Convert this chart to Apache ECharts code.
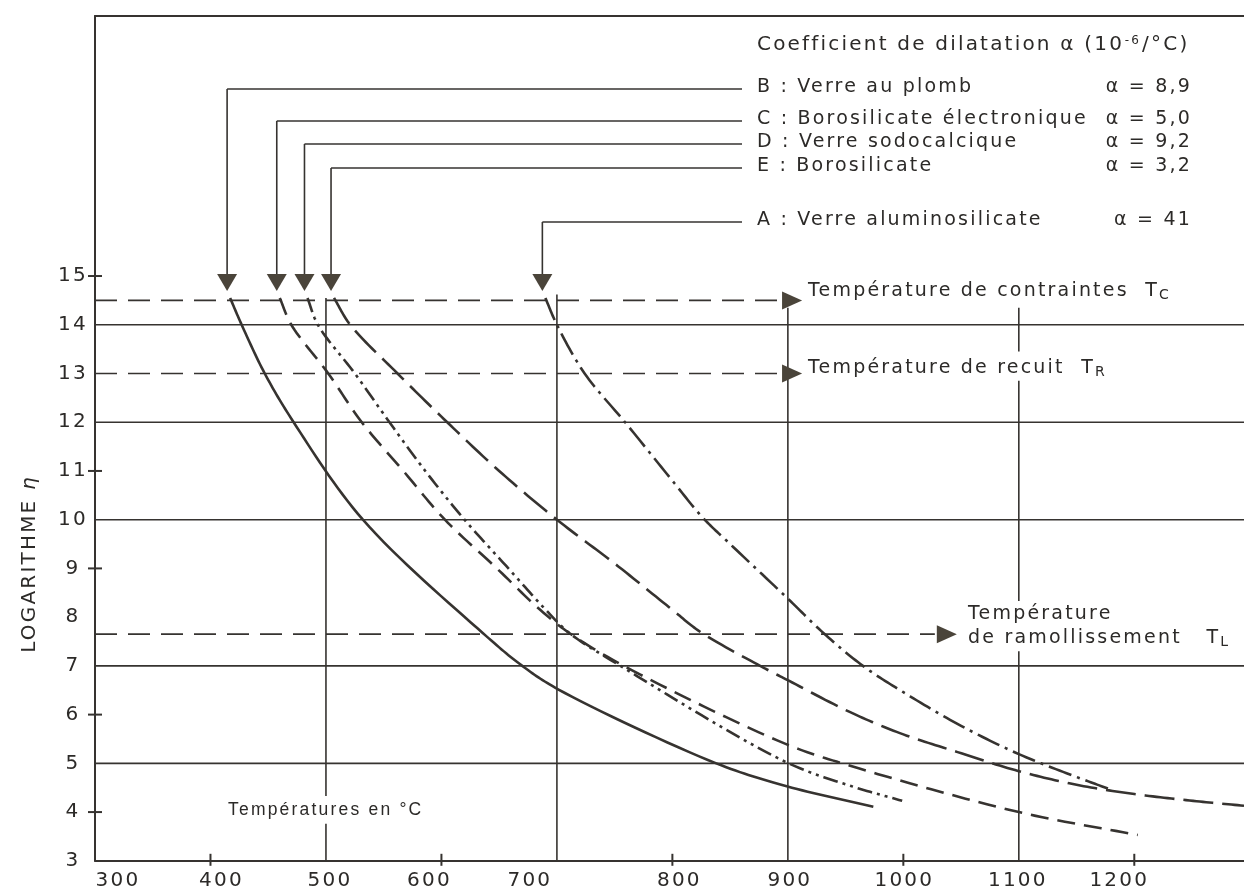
<!DOCTYPE html>
<html>
<head>
<meta charset="utf-8">
<script src="https://cdn.jsdelivr.net/npm/echarts@6/dist/echarts.min.js"></script>
<style>
  html, body { margin: 0; padding: 0; background: #ffffff; }
  #chart { width: 1244px; height: 892px; }
</style>
</head>
<body>
<div id="chart"></div>
<script>
// ---- data -------------------------------------------------------------
const temperatureLabels = [300, 400, 500, 600, 700, 800, 900, 1000, 1100, 1200];
const viscosityLabels = [3, 4, 5, 6, 7, 8, 9, 10, 11, 12, 13, 14, 15];
const xTickMarks = [400, 600, 800, 1000, 1200];
const yTickMarks = [4, 6, 9, 11, 15];
const gridLevels = [14, 12, 10, 7, 5];
// vertical rules: [temperature, from log η, to log η]
const verticalRules = [
  [500, 3, 3.76], [500, 4.33, 14.55],
  [700, 3, 14.62],
  [900, 3, 14.35],
  [1100, 3, 7.3], [1100, 8.33, 12.85], [1100, 13.45, 14.35]
];
// characteristic points (log η) and where their leaders stop
const refLevels = [14.5, 13.0, 7.65];
const refArrowEnds = [895, 895, 1029];

// viscosity curves: [temperature °C, log η]
const curveB = [[417, 14.55], [427, 14], [447, 13], [472, 12], [532, 10], [636, 7.67], [670, 7.0],
  [701, 6.52], [838, 5.0], [899, 4.53], [974, 4.11]];
const curveC = [[460, 14.55], [470, 14], [502, 13], [531, 12], [567, 11], [603, 10], [648, 9],
  [685, 8.16], [711, 7.67], [758, 7.0], [898, 5.4], [954, 4.95], [1100, 4.0], [1203, 3.53]];
const curveD = [[484, 14.55], [493, 14], [525, 13], [555, 12], [586, 11], [620, 10], [658, 9],
  [690, 8.16], [711, 7.67], [755, 7.0], [898, 5.03], [954, 4.54], [999, 4.23]];
const curveE = [[507, 14.55], [521, 14], [562, 13], [605, 12], [650, 11], [700, 10], [750, 9.1],
  [800, 8.15], [824, 7.7], [876, 7.0], [898, 6.73], [954, 6.05], [997, 5.62], [1047, 5.23],
  [1100, 4.84], [1150, 4.56], [1200, 4.37], [1251, 4.23], [1295, 4.13]];
const curveA = [[690, 14.55], [700, 14], [724, 13], [759, 12], [800, 10.8], [826, 10.05], [850, 9.5],
  [900, 8.38], [931, 7.67], [965, 7.0], [1000, 6.46], [1050, 5.77], [1100, 5.19], [1150, 4.72],
  [1181, 4.45]];

const glassNames = ['B : Verre au plomb', 'C : Borosilicate électronique', 'D : Verre sodocalcique',
  'E : Borosilicate', 'A : Verre aluminosilicate'];
const glassAlpha = ['8,9', '5,0', '9,2', '3,2', '41'];

// ---- typography: the printed DejaVu lettering is widely tracked ----------
const TRACK = 2.2;
(function () {
  const proto = CanvasRenderingContext2D.prototype;
  const fill = proto.fillText;
  const measure = proto.measureText;
  const tracked = ctx => /DejaVu/.test(ctx.font);
  proto.fillText = function (t, x, y, m) {
    const prev = this.letterSpacing;
    if (tracked(this)) this.letterSpacing = TRACK + 'px';
    if (m === undefined) fill.call(this, t, x, y); else fill.call(this, t, x, y, m);
    this.letterSpacing = prev;
  };
  proto.measureText = function (t) {
    const prev = this.letterSpacing;
    this.letterSpacing = '0px';
    const r = measure.call(this, t);
    this.letterSpacing = prev;
    const extra = tracked(this) ? TRACK * Array.from(String(t)).length : 0;
    return {
      width: r.width + extra,
      actualBoundingBoxLeft: r.actualBoundingBoxLeft,
      actualBoundingBoxRight: r.actualBoundingBoxRight + extra,
      actualBoundingBoxAscent: r.actualBoundingBoxAscent,
      actualBoundingBoxDescent: r.actualBoundingBoxDescent,
      fontBoundingBoxAscent: r.fontBoundingBoxAscent,
      fontBoundingBoxDescent: r.fontBoundingBoxDescent
    };
  };
})();

// ---- drawing ------------------------------------------------------------
const INK = '#363330';
const ARROW = '#4a443a';
const TEXT = '#2c2a28';
const FONT = '"DejaVu Sans", sans-serif';
const curves = [curveB, curveC, curveD, curveE, curveA];
const dashes = [null, [18, 9], [15, 5, 3, 5, 3, 5], [30, 9], [24, 6, 3, 6]];
const legendRows = [89, 121, 144, 168, 222];   // pixel rows of the key
const KEY_X = 742;
// printed x labels sit slightly off their ticks
const xLabelShift = { 300: 23, 400: 11, 500: 4, 600: -12, 700: -27, 800: 7, 900: 2, 1000: 1, 1100: -1, 1200: -15 };

const chart = echarts.init(document.getElementById('chart'));

function segment(p0, p1, width, dash) {
  return {
    type: 'line',
    shape: { x1: p0[0], y1: p0[1], x2: p1[0], y2: p1[1] },
    style: { stroke: INK, lineWidth: width, lineDash: dash || null },
    silent: true
  };
}

// centripetal Catmull-Rom through screen points (Barry-Goldman form)
function splinePoints(P, steps) {
  const out = [P[0]];
  const lerp = (a, b, ta, tb, t) => {
    const w = (tb - ta) === 0 ? 0 : (t - ta) / (tb - ta);
    return [a[0] + (b[0] - a[0]) * w, a[1] + (b[1] - a[1]) * w];
  };
  const knot = (t, a, b) => t + Math.sqrt(Math.hypot(b[0] - a[0], b[1] - a[1]));
  for (let i = 0; i < P.length - 1; i++) {
    const p1 = P[i], p2 = P[i + 1];
    const p0 = i > 0 ? P[i - 1] : [2 * p1[0] - p2[0], 2 * p1[1] - p2[1]];
    const p3 = i + 2 < P.length ? P[i + 2] : [2 * p2[0] - p1[0], 2 * p2[1] - p1[1]];
    const t0 = 0, t1 = knot(t0, p0, p1), t2 = knot(t1, p1, p2), t3 = knot(t2, p2, p3);
    for (let s = 1; s <= steps; s++) {
      const t = t1 + (t2 - t1) * s / steps;
      const A1 = lerp(p0, p1, t0, t1, t), A2 = lerp(p1, p2, t1, t2, t), A3 = lerp(p2, p3, t2, t3, t);
      const B1 = lerp(A1, A2, t0, t2, t), B2 = lerp(A2, A3, t1, t3, t);
      out.push(lerp(B1, B2, t1, t2, t));
    }
  }
  return out;
}

const curveSeries = curves.map((c, i) => ({
  type: 'custom',
  name: glassNames[i],
  data: c,
  silent: true,
  clip: false,
  z: 5,
  renderItem: (params, api) => {
    if (params.dataIndex !== 0) return null;
    const pts = c.map(p => api.coord(p));
    return {
      type: 'polyline',
      silent: true,
      shape: { points: splinePoints(pts, 16) },
      style: { stroke: INK, lineWidth: 2.6, fill: null, lineDash: dashes[i], lineCap: 'butt', lineJoin: 'round' }
    };
  }
}));

const xRich = {};
Object.keys(xLabelShift).forEach(k => {
  const s = xLabelShift[k];
  xRich['t' + k] = {
    fontSize: 20, fontFamily: FONT, color: TEXT,
    padding: s >= 0 ? [0, 0, 0, 2 * s] : [0, -2 * s, 0, 0]
  };
});

const option = {
  animation: false,
  backgroundColor: '#ffffff',
  grid: { left: 95, right: 0, top: 16, bottom: 30, containLabel: false },
  xAxis: [{
    type: 'value', min: 300, max: 1295, interval: 100,
    axisLine: { show: true, lineStyle: { color: INK, width: 2 } },
    axisTick: { show: false },
    splitLine: { show: false },
    axisLabel: {
      margin: 9, color: TEXT, fontSize: 20, fontFamily: FONT,
      showMaxLabel: false,
      rich: xRich,
      formatter: v => temperatureLabels.indexOf(v) >= 0 ? '{t' + v + '|' + v + '}' : ''
    }
  }, {
    type: 'value', position: 'top', min: 300, max: 1295,
    axisLine: { show: true, onZero: false, lineStyle: { color: INK, width: 2 } },
    axisTick: { show: false }, axisLabel: { show: false }, splitLine: { show: false }
  }],
  yAxis: {
    type: 'value', min: 3, max: 20.336, interval: 1,
    axisLine: { show: true, lineStyle: { color: INK, width: 2 } },
    axisTick: { show: false },
    splitLine: { show: false },
    axisLabel: {
      margin: 22, align: 'center', color: TEXT, fontSize: 20, fontFamily: FONT,
      showMaxLabel: false,
      formatter: v => viscosityLabels.indexOf(v) >= 0 ? String(v) : ''
    }
  },
  series: [
    {
      // horizontal rules
      type: 'custom', silent: true, z: 2, clip: false,
      data: gridLevels.map(v => [300, v]),
      renderItem: (params, api) => {
        const a = api.coord([300, api.value(1)]);
        const b = api.coord([1295, api.value(1)]);
        return segment(a, b, 1.6);
      }
    },
    {
      // vertical rules
      type: 'custom', silent: true, z: 2, clip: false,
      data: verticalRules,
      renderItem: (params, api) => {
        const a = api.coord([api.value(0), api.value(1)]);
        const b = api.coord([api.value(0), api.value(2)]);
        return segment(a, b, 1.6);
      }
    },
    {
      // axis tick crosses
      type: 'custom', silent: true, z: 3, clip: false,
      data: xTickMarks.map(v => [v, 3, 0]).concat(yTickMarks.map(v => [300, v, 1])),
      renderItem: (params, api) => {
        const p = api.coord([api.value(0), api.value(1)]);
        if (api.value(2) === 0) return segment([p[0], p[1] - 7], [p[0], p[1] + 5], 2);
        return segment([p[0] - 7, p[1]], [p[0] + 7, p[1]], 2);
      }
    },
    {
      // characteristic-point dashed leaders with arrow heads
      type: 'custom', silent: true, z: 4, clip: false,
      data: refLevels.map((v, i) => [refArrowEnds[i], v]),
      renderItem: (params, api) => {
        const a = api.coord([300, api.value(1)]);
        const b = api.coord([api.value(0), api.value(1)]);
        return {
          type: 'group',
          children: [
            segment(a, [b[0] - 2, b[1]], 1.7, [22, 11]),
            {
              type: 'polygon', silent: true,
              shape: { points: [[b[0], b[1] - 9], [b[0] + 20, b[1]], [b[0], b[1] + 9]] },
              style: { fill: ARROW }
            }
          ]
        };
      }
    },
    {
      // key connectors from each curve's start down to its arrow head
      type: 'custom', silent: true, z: 4, clip: false,
      data: curves.map((c, i) => [c[0][0], c[0][1], i]),
      renderItem: (params, api) => {
        const p = api.coord([api.value(0), api.value(1)]);
        const row = legendRows[api.value(2)];
        const x = p[0] - 3;
        const tipY = p[1] - 7;
        return {
          type: 'group',
          children: [
            segment([x, row], [KEY_X, row], 1.6),
            segment([x, row], [x, tipY - 16], 1.6),
            {
              type: 'polygon', silent: true,
              shape: { points: [[x - 10, tipY - 17], [x + 10, tipY - 17], [x, tipY]] },
              style: { fill: ARROW }
            }
          ]
        };
      }
    }
  ].concat(curveSeries)
};

chart.setOption(option);

// ---- texts ------------------------------------------------------------
const txt = (text, x, y, extra) => ({
  type: 'text', x, y, silent: true, z: 10,
  style: Object.assign({
    text, fill: TEXT, font: '19px ' + FONT, verticalAlign: 'middle', align: 'left'
  }, extra || {})
});
const subRich = { s: { fontSize: 14, fontFamily: FONT, fill: TEXT, verticalAlign: 'bottom', padding: [0, 0, -2, 0] } };

const graphics = [
  txt('Coefficient de dilatation α (10{sup|-6}/°C)', 757, 45, {
    font: '20px ' + FONT,
    rich: { sup: { fontSize: 12, fontFamily: FONT, fill: TEXT, padding: [0, 1, 9, 1] } }
  }),
  txt('Température de contraintes  T{s|C}', 808, 291, { rich: subRich }),
  txt('Température de recuit  T{s|R}', 808, 368, { rich: subRich }),
  txt('Température', 968, 614),
  txt('de ramollissement   T{s|L}', 968, 638, { rich: subRich }),
  txt('Températures en °C', 228, 810, { font: '17.5px "Liberation Sans", sans-serif' }),
  {
    type: 'text', x: 30, y: 564, rotation: Math.PI / 2, silent: true, z: 10,
    style: {
      text: 'LOGARITHME {e|η}', fill: TEXT, font: '20px ' + FONT,
      align: 'center', verticalAlign: 'middle',
      rich: { e: { fontSize: 20, fontStyle: 'italic', fontFamily: FONT, fill: TEXT } }
    }
  }
];
glassNames.forEach((name, i) => {
  graphics.push(txt(name, 757, legendRows[i] - 2));
  graphics.push(txt('α = ' + glassAlpha[i], 1192, legendRows[i] - 2, { align: 'right' }));
});
chart.setOption({ graphic: graphics });
</script>
</body>
</html>
